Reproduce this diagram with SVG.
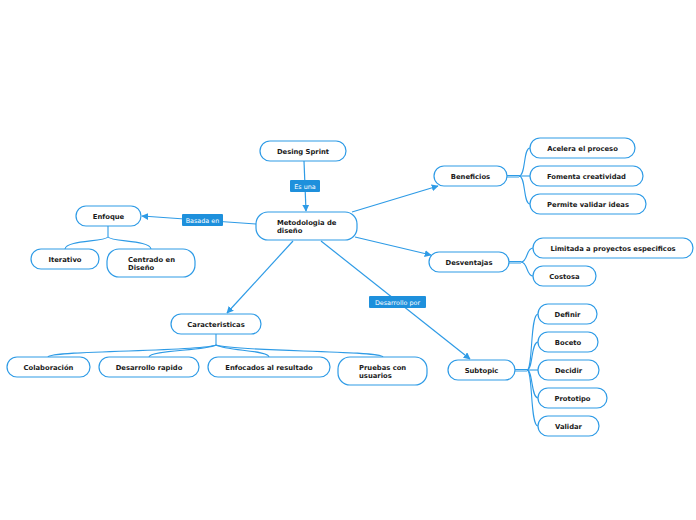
<svg xmlns="http://www.w3.org/2000/svg" width="696" height="520" viewBox="0 0 696 520">
<style>
.n rect{fill:#fff;stroke:#2e9be6;stroke-width:1.2}
.n text{font-family:"DejaVu Sans",Verdana,sans-serif;font-weight:bold;font-size:6.8px;fill:#1a1a1a}
.c{fill:none;stroke:#2e9be6;stroke-width:1.2}
.b{fill:none;stroke:#2e9be6;stroke-width:1.1}
.lb rect{fill:#1e90dc}
.lb text{font-family:"DejaVu Sans",Verdana,sans-serif;font-size:6.4px;fill:#fff}
</style>
<defs>
<marker id="ar" viewBox="0 0 10 10" refX="9" refY="5" markerWidth="7" markerHeight="7" orient="auto" markerUnits="userSpaceOnUse">
<path d="M0,0 L10,5 L0,10 z" fill="#2e9be6"/>
</marker>
</defs>
<rect width="696" height="520" fill="#fff"/>
<g id="connectors">
<path class="c" d="M304,161 L306,211" marker-end="url(#ar)"/>
<path class="c" d="M256,224 L142,216" marker-end="url(#ar)"/>
<path class="c" d="M352,212 L438,186" marker-end="url(#ar)"/>
<path class="c" d="M355,237 L431,255" marker-end="url(#ar)"/>
<path class="c" d="M293,241 L227,313" marker-end="url(#ar)"/>
<path class="c" d="M321,241 L470,359" marker-end="url(#ar)"/>
<path class="b" d="M108,226 V237 C104,242 66,240 65,249"/>
<path class="b" d="M108,237 C112,242 150,240 151,249"/>
<path class="b" d="M216,334 V345 C200,352 50,350 48,357"/>
<path class="b" d="M216,345 C205,351 150,350 149,357"/>
<path class="b" d="M216,345 C227,351 268,350 269,357"/>
<path class="b" d="M216,345 C235,352 380,350 383,357"/>
<path class="b" d="M507,175.5 H519 M507,177 H519"/>
<path class="b" d="M519,176 C526,176 523,148 530,148"/>
<path class="b" d="M519,176 H530"/>
<path class="b" d="M519,176 C526,176 523,204 530,204"/>
<path class="b" d="M509,261.5 H521 M509,263 H521"/>
<path class="b" d="M521,262 C528,262 526,248 533,248"/>
<path class="b" d="M521,262 C528,262 526,276 533,276"/>
<path class="b" d="M515,369.5 H527 M515,371 H527"/>
<path class="b" d="M527,370 C533,370 530,314 538,314"/>
<path class="b" d="M527,370 C533,370 531,342 538,342"/>
<path class="b" d="M527,370 H538"/>
<path class="b" d="M527,370 C533,370 531,398 538,398"/>
<path class="b" d="M527,370 C533,370 530,426 538,426"/>
</g>
<g id="label-es-una" class="lb"><rect x="290" y="180" width="30" height="12" rx="1"/><text x="305" y="188.5" text-anchor="middle">Es una</text></g>
<g id="label-basada-en" class="lb"><rect x="182" y="214" width="41" height="12" rx="1"/><text x="202.5" y="222.5" text-anchor="middle">Basada en</text></g>
<g id="label-desarrollo-por" class="lb"><rect x="369" y="296" width="57" height="12" rx="1"/><text x="397.5" y="304.5" text-anchor="middle">Desarrollo por</text></g>
<g id="n-desing" class="n"><rect x="260" y="141" width="86" height="20" rx="10"/><text x="303" y="153.5" text-anchor="middle">Desing Sprint</text></g>
<g id="n-metodologia" class="n"><rect x="256" y="212" width="101" height="28" rx="12"/><text x="277" y="224.5">Metodologia de</text><text x="277" y="232.5">diseño</text></g>
<g id="n-enfoque" class="n"><rect x="76" y="206" width="65" height="20" rx="10"/><text x="108.5" y="218.5" text-anchor="middle">Enfoque</text></g>
<g id="n-iterativo" class="n"><rect x="31" y="249" width="68" height="20" rx="10"/><text x="65" y="261.5" text-anchor="middle">Iterativo</text></g>
<g id="n-centrado" class="n"><rect x="107" y="249" width="88" height="28" rx="12"/><text x="128" y="261.5">Centrado en</text><text x="128" y="269.5">Diseño</text></g>
<g id="n-beneficios" class="n"><rect x="434" y="166" width="73" height="20" rx="10"/><text x="470.5" y="178.5" text-anchor="middle">Beneficios</text></g>
<g id="n-acelera" class="n"><rect x="530" y="138" width="105" height="20" rx="10"/><text x="582.5" y="150.5" text-anchor="middle">Acelera el proceso</text></g>
<g id="n-fomenta" class="n"><rect x="530" y="166" width="113" height="20" rx="10"/><text x="586.5" y="178.5" text-anchor="middle">Fomenta creatividad</text></g>
<g id="n-permite" class="n"><rect x="530" y="194" width="116" height="20" rx="10"/><text x="588" y="206.5" text-anchor="middle">Permite validar ideas</text></g>
<g id="n-desventajas" class="n"><rect x="429" y="252" width="80" height="20" rx="10"/><text x="469" y="264.5" text-anchor="middle">Desventajas</text></g>
<g id="n-limitada" class="n"><rect x="533" y="238" width="160" height="20" rx="10"/><text x="613" y="250.5" text-anchor="middle">Limitada a proyectos especificos</text></g>
<g id="n-costosa" class="n"><rect x="533" y="266" width="63" height="20" rx="10"/><text x="564.5" y="278.5" text-anchor="middle">Costosa</text></g>
<g id="n-caracteristicas" class="n"><rect x="171" y="314" width="90" height="20" rx="10"/><text x="216" y="326.5" text-anchor="middle">Caracteristicas</text></g>
<g id="n-colaboracion" class="n"><rect x="7" y="357" width="83" height="20" rx="10"/><text x="48.5" y="369.5" text-anchor="middle">Colaboración</text></g>
<g id="n-desarrollo" class="n"><rect x="99" y="357" width="100" height="20" rx="10"/><text x="149" y="369.5" text-anchor="middle">Desarrollo rapido</text></g>
<g id="n-enfocados" class="n"><rect x="208" y="357" width="122" height="20" rx="10"/><text x="269" y="369.5" text-anchor="middle">Enfocados al resultado</text></g>
<g id="n-pruebas" class="n"><rect x="338" y="357" width="89" height="28" rx="12"/><text x="359" y="369.5">Pruebas con</text><text x="359" y="377.5">usuarios</text></g>
<g id="n-subtopic" class="n"><rect x="448" y="360" width="67" height="20" rx="10"/><text x="481.5" y="372.5" text-anchor="middle">Subtopic</text></g>
<g id="n-definir" class="n"><rect x="538" y="304" width="59" height="20" rx="10"/><text x="567.5" y="316.5" text-anchor="middle">Definir</text></g>
<g id="n-boceto" class="n"><rect x="538" y="332" width="60" height="20" rx="10"/><text x="568" y="344.5" text-anchor="middle">Boceto</text></g>
<g id="n-decidir" class="n"><rect x="538" y="360" width="61" height="20" rx="10"/><text x="568.5" y="372.5" text-anchor="middle">Decidir</text></g>
<g id="n-prototipo" class="n"><rect x="538" y="388" width="69" height="20" rx="10"/><text x="572.5" y="400.5" text-anchor="middle">Prototipo</text></g>
<g id="n-validar" class="n"><rect x="538" y="416" width="61" height="20" rx="10"/><text x="568.5" y="428.5" text-anchor="middle">Validar</text></g>
</svg>
